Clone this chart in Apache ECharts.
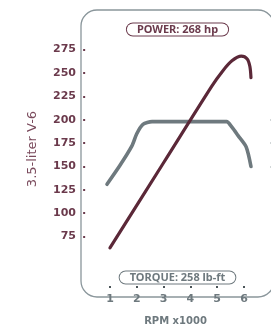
<!DOCTYPE html>
<html>
<head>
<meta charset="utf-8">
<script src="https://cdn.jsdelivr.net/npm/echarts@6/dist/echarts.min.js"></script>
<style>
html,body{margin:0;padding:0;background:#fff;}
#container{width:271px;height:331px;}
</style>
</head>
<body>
<div id="container"></div>
<script>
// power curve (rpm x1000, hp)
var powerRpm = [1.0, 3.0, 4.8, 5.2, 5.55, 5.9, 6.12, 6.22, 6.26];
var powerHp = [63, 154, 236, 252, 263, 268, 265, 257, 245];
// torque curve (rpm x1000, lb-ft)
var torqueRpm = [0.89, 1.37, 1.82, 2.0, 2.23, 2.57, 5.35, 5.55, 5.78, 6.08, 6.26];
var torqueLbft = [131, 151, 172, 185, 195, 198, 198, 192, 183, 171, 150];
// tick labels
var xTicks = [1, 2, 3, 4, 5, 6];
var yTicks = [75, 100, 125, 150, 175, 200, 225, 250, 275];
var rightTicks = [150, 175, 200];

var mauve = '#6b3a4c';
var wine = '#5b2838';
var grey = '#6e797e';

function pairs(xs, ys) {
    var out = [];
    for (var i = 0; i < xs.length; i++) {
        out.push([xs[i], ys[i]]);
    }
    return out;
}

var dom = document.getElementById("container");
var myChart = echarts.init(dom);
var option = {
    animation: false,
    grid: {
        left: 81,
        right: 1,
        top: 10,
        bottom: 34
    },
    xAxis: {
        type: 'value',
        min: -0.08,
        max: 6.97,
        splitLine: {show: false},
        axisLine: {show: false},
        axisTick: {
            show: true,
            inside: true,
            length: 2,
            customValues: xTicks,
            lineStyle: {color: '#4a5458', width: 2}
        },
        axisLabel: {
            customValues: xTicks,
            color: grey,
            fontFamily: 'DejaVu Sans',
            fontWeight: 'bold',
            fontSize: 11,
            margin: 6
        },
        name: 'RPM x1000',
        nameLocation: 'middle',
        nameGap: 28,
        nameTextStyle: {
            color: grey,
            fontFamily: 'DejaVu Sans',
            fontWeight: 'bold',
            fontSize: 10
        }
    },
    yAxis: [
        {
            type: 'value',
            min: 20,
            max: 317.4,
            splitLine: {show: false},
            axisLine: {show: false},
            axisTick: {
                show: true,
                inside: true,
                length: 2,
                customValues: yTicks,
                lineStyle: {color: mauve, width: 2}
            },
            axisLabel: {
                customValues: yTicks,
                color: mauve,
                fontFamily: 'DejaVu Sans',
                fontWeight: 'bold',
                fontSize: 11,
                margin: 5
            },
            name: '3.5-liter V-6',
            nameLocation: 'middle',
            nameGap: 42,
            nameTextStyle: {
                color: '#7a4a5c',
                fontFamily: 'DejaVu Sans',
                fontSize: 13
            }
        },
        {
            type: 'value',
            position: 'right',
            min: 20,
            max: 317.4,
            splitLine: {show: false},
            axisLine: {show: false},
            axisTick: {
                show: true,
                length: 3,
                customValues: rightTicks,
                lineStyle: {color: '#c4cacc', width: 1.5}
            },
            axisLabel: {show: false}
        }
    ],
    graphic: [
        {
            type: 'rect',
            shape: {x: 81, y: 10, width: 193, height: 287, r: 16},
            style: {fill: 'none', stroke: '#8a969b', lineWidth: 1.3},
            z: 0
        },
        {
            type: 'text',
            x: 177.5,
            y: 29.5,
            style: {
                text: 'POWER: 268 hp',
                font: 'bold 11px "Noto Sans"',
                fill: mauve,
                align: 'center',
                verticalAlign: 'middle',
                padding: [1, 10, 0, 10],
                borderColor: mauve,
                borderWidth: 1,
                borderRadius: 8,
                backgroundColor: '#fff'
            }
        },
        {
            type: 'text',
            x: 177.5,
            y: 277.5,
            style: {
                text: 'TORQUE: 258 lb-ft',
                font: 'bold 11px "Noto Sans"',
                fill: grey,
                align: 'center',
                verticalAlign: 'middle',
                padding: [1, 10, 0, 10],
                borderColor: grey,
                borderWidth: 1,
                borderRadius: 8,
                backgroundColor: '#fff'
            }
        }
    ],
    series: [
        {
            name: 'Torque',
            type: 'line',
            data: pairs(torqueRpm, torqueLbft),
            smooth: 0.25,
            showSymbol: false,
            lineStyle: {color: grey, width: 3.6, cap: 'round', join: 'round'},
            z: 2
        },
        {
            name: 'Power',
            type: 'line',
            data: pairs(powerRpm, powerHp),
            smooth: 0.3,
            showSymbol: false,
            lineStyle: {color: wine, width: 3.2, cap: 'round', join: 'round'},
            z: 3
        }
    ]
};
myChart.setOption(option, true);
</script>
</body>
</html>
